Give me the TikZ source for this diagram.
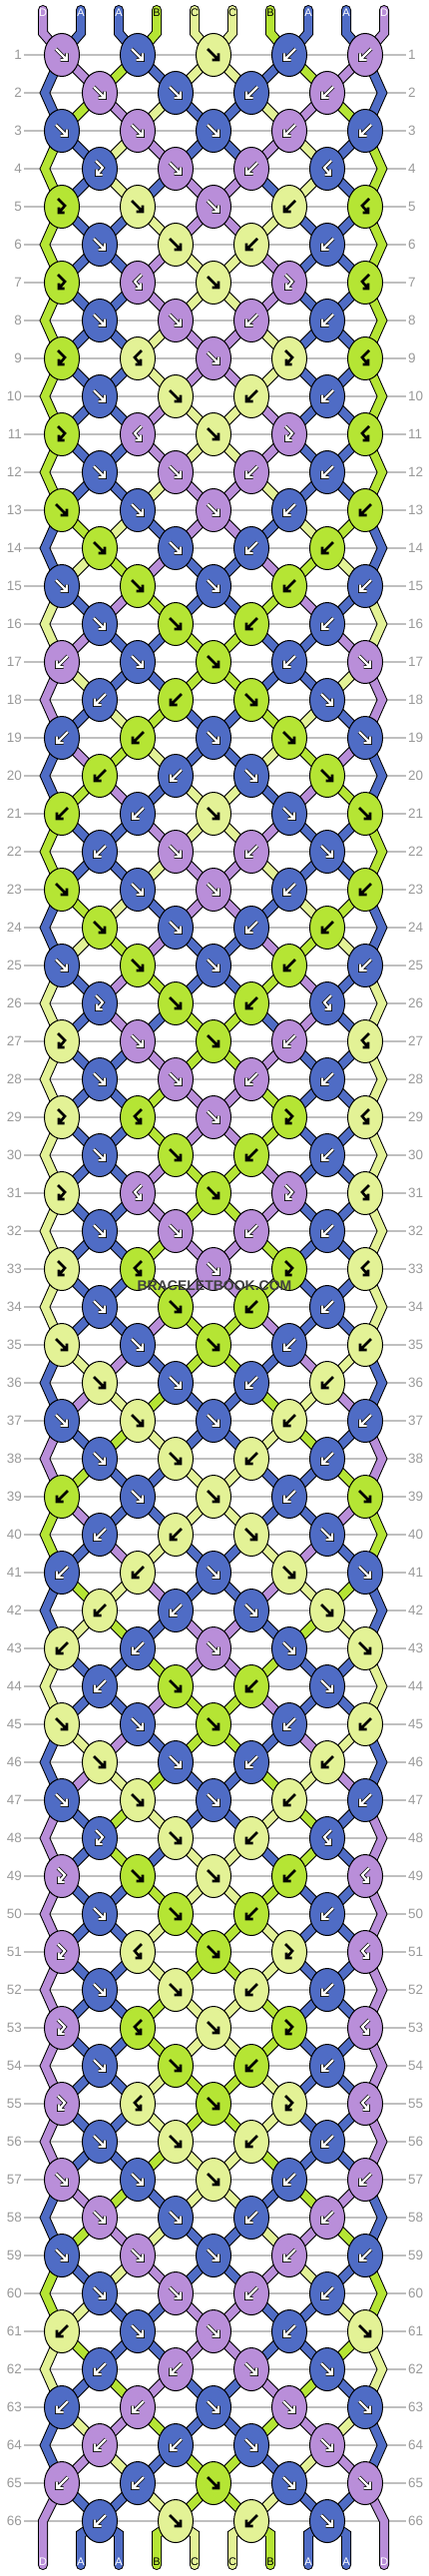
\documentclass[tikz,border=0pt]{standalone}
\usepackage{fontspec}
\setmainfont{Liberation Sans}
\usetikzlibrary{shapes.geometric}

\definecolor{colA}{HTML}{4F6CC5}
\definecolor{colB}{HTML}{B5E534}
\definecolor{colC}{HTML}{E3F296}
\definecolor{colD}{HTML}{B98ED9}
\colorlet{txtA}{white}
\colorlet{txtB}{black}
\colorlet{txtC}{black}
\colorlet{txtD}{white}

\pgfdeclarelayer{grid}
\pgfdeclarelayer{strings}
\pgfsetlayers{grid,strings,main}

% row / knots (colour/type) / strings coming into the row
\def\rowdata{%
1/{D/f,A/f,C/f,A/b,D/b}/{D,A,A,B,C,C,B,A,A,D},%
2/{D/f,A/f,A/b,D/b}/{A,D,B,A,C,C,A,B,D,A},%
3/{A/f,D/f,A/f,D/b,A/b}/{A,B,D,C,A,A,C,D,B,A},%
4/{A/r,D/f,D/b,A/l}/{B,A,C,D,A,A,D,C,A,B},%
5/{B/r,C/f,D/f,C/b,B/l}/{B,A,C,A,D,D,A,C,A,B},%
6/{A/f,C/f,C/b,A/b}/{B,A,A,C,D,D,C,A,A,B},%
7/{B/r,D/l,C/f,D/r,B/l}/{B,A,A,D,C,C,D,A,A,B},%
8/{A/f,D/f,D/b,A/b}/{B,A,A,D,C,C,D,A,A,B},%
9/{B/r,C/l,D/f,C/r,B/l}/{B,A,A,C,D,D,C,A,A,B},%
10/{A/f,C/f,C/b,A/b}/{B,A,A,C,D,D,C,A,A,B},%
11/{B/r,D/l,C/f,D/r,B/l}/{B,A,A,D,C,C,D,A,A,B},%
12/{A/f,D/f,D/b,A/b}/{B,A,A,D,C,C,D,A,A,B},%
13/{B/f,A/f,D/f,A/b,B/b}/{B,A,A,C,D,D,C,A,A,B},%
14/{B/f,A/f,A/b,B/b}/{A,B,C,A,D,D,A,C,B,A},%
15/{A/f,B/f,A/f,B/b,A/b}/{A,C,B,D,A,A,D,B,C,A},%
16/{A/f,B/f,B/b,A/b}/{C,A,D,B,A,A,B,D,A,C},%
17/{D/b,A/f,B/f,A/b,D/f}/{C,D,A,A,B,B,A,A,D,C},%
18/{A/b,B/b,B/f,A/f}/{D,C,A,A,B,B,A,A,C,D},%
19/{A/b,B/b,A/f,B/f,A/f}/{D,A,C,B,A,A,B,C,A,D},%
20/{B/b,A/b,A/f,B/f}/{A,D,B,C,A,A,C,B,D,A},%
21/{B/b,A/b,C/f,A/f,B/f}/{A,B,D,A,C,C,A,D,B,A},%
22/{A/b,D/f,D/b,A/f}/{B,A,A,D,C,C,D,A,A,B},%
23/{B/f,A/f,D/f,A/b,B/b}/{B,A,A,C,D,D,C,A,A,B},%
24/{B/f,A/f,A/b,B/b}/{A,B,C,A,D,D,A,C,B,A},%
25/{A/f,B/f,A/f,B/b,A/b}/{A,C,B,D,A,A,D,B,C,A},%
26/{A/r,B/f,B/b,A/l}/{C,A,D,B,A,A,B,D,A,C},%
27/{C/r,D/f,B/f,D/b,C/l}/{C,A,D,A,B,B,A,D,A,C},%
28/{A/f,D/f,D/b,A/b}/{C,A,A,D,B,B,D,A,A,C},%
29/{C/r,B/l,D/f,B/r,C/l}/{C,A,A,B,D,D,B,A,A,C},%
30/{A/f,B/f,B/b,A/b}/{C,A,A,B,D,D,B,A,A,C},%
31/{C/r,D/l,B/f,D/r,C/l}/{C,A,A,D,B,B,D,A,A,C},%
32/{A/f,D/f,D/b,A/b}/{C,A,A,D,B,B,D,A,A,C},%
33/{C/r,B/l,D/f,B/r,C/l}/{C,A,A,B,D,D,B,A,A,C},%
34/{A/f,B/f,B/b,A/b}/{C,A,A,B,D,D,B,A,A,C},%
35/{C/f,A/f,B/f,A/b,C/b}/{C,A,A,D,B,B,D,A,A,C},%
36/{C/f,A/f,A/b,C/b}/{A,C,D,A,B,B,A,D,C,A},%
37/{A/f,C/f,A/f,C/b,A/b}/{A,D,C,B,A,A,B,C,D,A},%
38/{A/f,C/f,C/b,A/b}/{D,A,B,C,A,A,C,B,A,D},%
39/{B/b,A/f,C/f,A/b,B/f}/{D,B,A,A,C,C,A,A,B,D},%
40/{A/b,C/b,C/f,A/f}/{B,D,A,A,C,C,A,A,D,B},%
41/{A/b,C/b,A/f,C/f,A/f}/{B,A,D,C,A,A,C,D,A,B},%
42/{C/b,A/b,A/f,C/f}/{A,B,C,D,A,A,D,C,B,A},%
43/{C/b,A/b,D/f,A/f,C/f}/{A,C,B,A,D,D,A,B,C,A},%
44/{A/b,B/f,B/b,A/f}/{C,A,A,B,D,D,B,A,A,C},%
45/{C/f,A/f,B/f,A/b,C/b}/{C,A,A,D,B,B,D,A,A,C},%
46/{C/f,A/f,A/b,C/b}/{A,C,D,A,B,B,A,D,C,A},%
47/{A/f,C/f,A/f,C/b,A/b}/{A,D,C,B,A,A,B,C,D,A},%
48/{A/r,C/f,C/b,A/l}/{D,A,B,C,A,A,C,B,A,D},%
49/{D/r,B/f,C/f,B/b,D/l}/{D,A,B,A,C,C,A,B,A,D},%
50/{A/f,B/f,B/b,A/b}/{D,A,A,B,C,C,B,A,A,D},%
51/{D/r,C/l,B/f,C/r,D/l}/{D,A,A,C,B,B,C,A,A,D},%
52/{A/f,C/f,C/b,A/b}/{D,A,A,C,B,B,C,A,A,D},%
53/{D/r,B/l,C/f,B/r,D/l}/{D,A,A,B,C,C,B,A,A,D},%
54/{A/f,B/f,B/b,A/b}/{D,A,A,B,C,C,B,A,A,D},%
55/{D/r,C/l,B/f,C/r,D/l}/{D,A,A,C,B,B,C,A,A,D},%
56/{A/f,C/f,C/b,A/b}/{D,A,A,C,B,B,C,A,A,D},%
57/{D/f,A/f,C/f,A/b,D/b}/{D,A,A,B,C,C,B,A,A,D},%
58/{D/f,A/f,A/b,D/b}/{A,D,B,A,C,C,A,B,D,A},%
59/{A/f,D/f,A/f,D/b,A/b}/{A,B,D,C,A,A,C,D,B,A},%
60/{A/f,D/f,D/b,A/b}/{B,A,C,D,A,A,D,C,A,B},%
61/{C/b,A/f,D/f,A/b,C/f}/{B,C,A,A,D,D,A,A,C,B},%
62/{A/b,D/b,D/f,A/f}/{C,B,A,A,D,D,A,A,B,C},%
63/{A/b,D/b,A/f,D/f,A/f}/{C,A,B,D,A,A,D,B,A,C},%
64/{D/b,A/b,A/f,D/f}/{A,C,D,B,A,A,B,D,C,A},%
65/{D/b,A/b,B/f,A/f,D/f}/{A,D,C,A,B,B,A,C,D,A},%
66/{A/b,C/f,C/b,A/f}/{D,A,A,C,B,B,C,A,A,D}}

\begin{document}
\begin{tikzpicture}[x=1pt, y=-1pt,
  knot/.style={ellipse, draw=black, line width=1pt, fill=col#1,
    minimum width=35pt, minimum height=43pt, inner sep=0pt},
  str/.style={draw=black, line width=1pt, double=col#1, double distance=8pt,
    line cap=round, line join=miter},
  dark arrow/.style={arr/.style={draw=black, line width=0.8pt, double=white, double distance=2.2pt}},
  light arrow/.style={arr/.style={draw=black, line width=2.6pt}},
  arrow A/.style={dark arrow}, arrow D/.style={dark arrow},
  arrow B/.style={light arrow}, arrow C/.style={light arrow},
  pics/arr f/.style={code={\draw[arr] (-6,-6) -- (5,5) (5,-1.5) -- (5,5) -- (-1.5,5);}},
  pics/arr b/.style={code={\draw[arr] (6,-6) -- (-5,5) (-5,-1.5) -- (-5,5) -- (1.5,5);}},
  pics/arr r/.style={code={\draw[arr] (-4,-8) -- (3,-1) -- (-3,6) (-3,0.5) -- (-3,6) -- (2.5,6);}},
  pics/arr l/.style={code={\draw[arr] (4,-8) -- (-3,-1) -- (3,6) (3,0.5) -- (3,6) -- (-2.5,6);}},
  rowlbl/.style={font=\fontsize{13.5}{14}\selectfont, text=black!40, inner sep=2pt},
  rowline/.style={draw=black!25, line width=1.2pt},
  strlbl/.style={font=\fontsize{11}{12}\selectfont, text=txt#1, inner sep=0pt},
  watermark/.style={font=\bfseries\fontsize{14}{16}\selectfont, text=black!75}]

 \useasboundingbox (0,0) rectangle (430,2580);

 % string ends, top and bottom
 \foreach \c [count=\q from 0] in {D,A,A,B,C,C,B,A,A,D} {
   \coordinate (t-\q)  at (43+38*\q,10);
   \coordinate (tb-\q) at (43+38*\q,33);
   \coordinate (bb-\q) at (43+38*\q,2538);
   \coordinate (bt-\q) at (43+38*\q,2569);
   \node[strlbl=\c] (lt-\q) at (43+38*\q,13) {\c};
   \node[strlbl=\c] (lb-\q) at (43+38*\q,2566) {\c};
 }

 % knots, row labels and grid lines
 \foreach \row/\kn/\st in \rowdata {
   \pgfmathsetmacro\y{55+38*(\row-1)}
   \pgfmathtruncatemacro\rodd{mod(\row,2)}
   \node[rowlbl, anchor=east] (rl-\row) at (24,\y) {\row};
   \node[rowlbl, anchor=west] (rr-\row) at (407,\y) {\row};
   \begin{pgfonlayer}{grid}
     \draw[rowline] (rl-\row) -- (rr-\row);
   \end{pgfonlayer}
   \foreach \c/\kt [count=\i] in \kn {
     \pgfmathsetmacro\x{(\rodd==1 ? 62 : 100)+76*(\i-1)}
     \node[knot=\c] (k-\row-\i) at (\x,\y) {};
     \pic[arrow \c] at (k-\row-\i) {arr \kt};
   }
   \ifnum\rodd=0
     \coordinate (e-\row-0) at (45,\y);
     \coordinate (e-\row-9) at (383,\y);
   \fi
 }
 \coordinate (e-66-0) at (43,2525);
 \coordinate (e-66-9) at (385,2525);

 % strings
 \begin{pgfonlayer}{strings}
 \foreach \row/\kn/\st in \rowdata {
   \pgfmathtruncatemacro\rp{\row-1}
   \pgfmathtruncatemacro\rn{\row+1}
   \pgfmathtruncatemacro\rodd{mod(\row,2)}
   \foreach \c [count=\q from 0] in \st {
     \pgfmathtruncatemacro\ia{\rodd==1 ? int(\q/2)+1 : int((\q-1)/2)+1}
     \pgfmathtruncatemacro\ib{\rodd==1 ? int((\q-1)/2)+1 : int(\q/2)+1}
     \pgfmathtruncatemacro\isedge{(\q==0 || \q==9) ? 1 : 0}
     \ifnum\row=1
       \draw[str=\c] (t-\q) -- (tb-\q) -- (k-1-\ia.center);
     \else\ifnum\isedge=1
       \ifnum\rodd=0
         \pgfmathtruncatemacro\ie{\q==0 ? 1 : 5}
         \ifnum\row=66
           \draw[str=\c] (k-\rp-\ie.center) -- (e-\row-\q) -- (bt-\q);
         \else
           \draw[str=\c] (k-\rp-\ie.center) -- (e-\row-\q) -- (k-\rn-\ie.center);
         \fi
       \fi
     \else
       \draw[str=\c] (k-\rp-\ib.center) -- (k-\row-\ia.center);
     \fi\fi
   }
 }
 \foreach \c [count=\q from 0] in {D,A,A,B,C,C,B,A,A,D} {
   \ifnum\q>0 \ifnum\q<9
     \pgfmathtruncatemacro\ia{int((\q-1)/2)+1}
     \draw[str=\c] (k-66-\ia.center) -- (bb-\q) -- (bt-\q);
   \fi\fi
 }
 \end{pgfonlayer}

 \node[watermark] (wm) at (215,1288) {BRACELETBOOK.COM};
\end{tikzpicture}
\end{document}
